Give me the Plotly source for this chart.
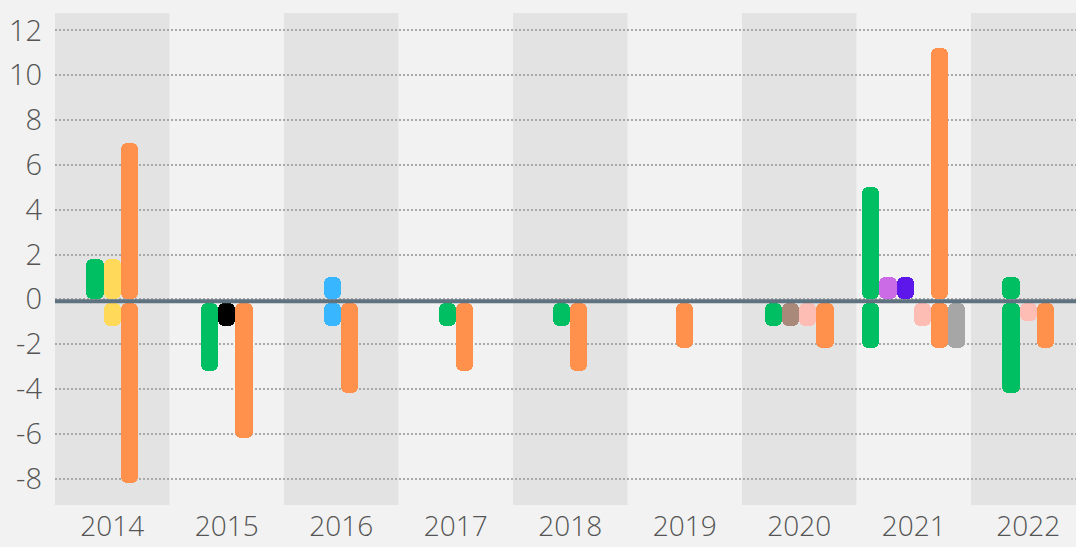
import plotly.graph_objects as go

# Years on the category axis
years = ["2014", "2015", "2016", "2017", "2018", "2019", "2020", "2021", "2022"]

# Gains (positive) and losses (negative) per series, one value per year
green_gain = [1.8, 0, 0, 0, 0, 0, 0, 5, 1]
green_loss = [0, -3, 0, -1, -1, 0, -1, -2, -4]
yellow_gain = [1.8, 0, 0, 0, 0, 0, 0, 0, 0]
yellow_loss = [-1, 0, 0, 0, 0, 0, 0, 0, 0]
black_gain = [0, 0, 0, 0, 0, 0, 0, 0, 0]
black_loss = [0, -1, 0, 0, 0, 0, 0, 0, 0]
blue_gain = [0, 0, 1, 0, 0, 0, 0, 0, 0]
blue_loss = [0, 0, -1, 0, 0, 0, 0, 0, 0]
brown_gain = [0, 0, 0, 0, 0, 0, 0, 0, 0]
brown_loss = [0, 0, 0, 0, 0, 0, -1, 0, 0]
violet_gain = [0, 0, 0, 0, 0, 0, 0, 1, 0]
violet_loss = [0, 0, 0, 0, 0, 0, 0, 0, 0]
purple_gain = [0, 0, 0, 0, 0, 0, 0, 1, 0]
purple_loss = [0, 0, 0, 0, 0, 0, 0, 0, 0]
pink_gain = [0, 0, 0, 0, 0, 0, 0, 0, 0]
pink_loss = [0, 0, 0, 0, 0, 0, -1, -1, -0.8]
orange_gain = [7, 0, 0, 0, 0, 0, 0, 11.2, 0]
orange_loss = [-8, -6, -4, -3, -3, -2, -2, -2, -2]
gray_gain = [0, 0, 0, 0, 0, 0, 0, 0, 0]
gray_loss = [0, 0, 0, 0, 0, 0, 0, -2, 0]

# y-axis ticks
y_ticks = [-8, -6, -4, -2, 0, 2, 4, 6, 8, 10, 12]

series = [
    ("#00bf63", green_gain, green_loss),
    ("#ffd95a", yellow_gain, yellow_loss),
    ("#000000", black_gain, black_loss),
    ("#38b6ff", blue_gain, blue_loss),
    ("#a8897a", brown_gain, brown_loss),
    ("#cb6ce6", violet_gain, violet_loss),
    ("#5e17eb", purple_gain, purple_loss),
    ("#fdbcb4", pink_gain, pink_loss),
    ("#ff914d", orange_gain, orange_loss),
    ("#a6a6a6", gray_gain, gray_loss),
]

W, H = 1076, 547
M_L, M_R, M_T, M_B = 55, 0, 13, 42
Y_RANGE = [-9.18, 12.78]
X_RANGE = [-0.5, 8.417]
px_per_y = (H - M_T - M_B) / (Y_RANGE[1] - Y_RANGE[0])
px_per_x = (W - M_L - M_R) / (X_RANGE[1] - X_RANGE[0])

BAR_PX = 17.2          # bar thickness in pixels
GAP_PX = 4.0           # negative bars start below the zero rule
bw = BAR_PX / px_per_x
gap = GAP_PX / px_per_y

# Which series appear in each year (slot order follows the series order)
present = []
for i in range(len(years)):
    present.append([k for k, (_, g, l) in enumerate(series) if g[i] != 0 or l[i] != 0])

fig = go.Figure()

for k, (color, gain, loss) in enumerate(series):
    xs, bases, lens = [], [], []
    for i in range(len(years)):
        if k not in present[i]:
            continue
        n = len(present[i])
        slot = present[i].index(k)
        xc = i + (slot - (n - 1) / 2) * bw
        if gain[i] > 0:
            xs.append(xc)
            bases.append(0.0)
            lens.append(gain[i])
        if loss[i] < 0:
            xs.append(xc)
            bases.append(-gap)
            lens.append(loss[i])
    if xs:
        fig.add_trace(go.Bar(
            x=xs, y=lens, base=bases, width=[bw] * len(xs),
            marker=dict(color=color, line=dict(width=0), cornerradius=6),
            showlegend=False, hoverinfo="skip",
        ))

# Alternating shaded year bands
shapes = []
for i in range(0, len(years), 2):
    shapes.append(dict(
        type="rect", xref="x", yref="paper",
        x0=i - 0.5, x1=i + 0.5, y0=0, y1=1,
        fillcolor="#e3e3e3", line=dict(width=0), layer="below",
    ))
# Zero rule
zero_y = -(GAP_PX / 2) / px_per_y
shapes.append(dict(
    type="line", xref="paper", yref="y", x0=0, x1=1, y0=zero_y, y1=zero_y,
    line=dict(color="#5f7280", width=4), layer="above",
))

x_font = dict(family="Open Sans", size=28, color="#555555", weight=300)
y_font = dict(family="Open Sans", size=29, color="#555555", weight=300)

fig.update_layout(
    width=W, height=H,
    margin=dict(l=M_L, r=M_R, t=M_T, b=M_B, pad=0, autoexpand=False),
    paper_bgcolor="#f2f2f2", plot_bgcolor="#f2f2f2",
    barmode="overlay", bargap=0,
    shapes=shapes,
    xaxis=dict(
        range=X_RANGE, tickmode="array",
        tickvals=list(range(len(years))), ticktext=years,
        showgrid=False, zeroline=False, showline=False,
        ticks="", tickfont=x_font, ticklabelstandoff=2,
        automargin=False, fixedrange=True,
    ),
    yaxis=dict(
        range=Y_RANGE, tickmode="array", tickvals=y_ticks,
        ticktext=[str(v) for v in y_ticks],
        showgrid=True, gridcolor="#a9a9a9", gridwidth=1.5, griddash="2px,2px",
        zeroline=False, showline=False,
        ticks="", tickfont=y_font, ticklabelstandoff=12,
        automargin=False, fixedrange=True,
    ),
)

fig.write_html("out.html")
